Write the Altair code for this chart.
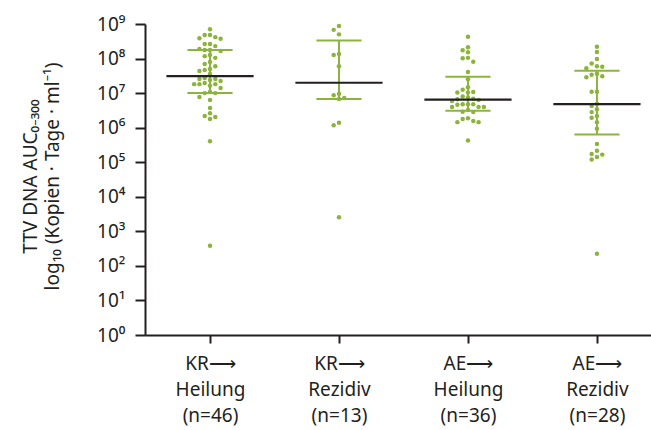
import math
import altair as alt
import pandas as pd

# Group labels (three lines each) and sample sizes
group_lines = [
    ["KR\u27f6", "Heilung", "(n=46)"],
    ["KR\u27f6", "Rezidiv", "(n=13)"],
    ["AE\u27f6", "Heilung", "(n=36)"],
    ["AE\u27f6", "Rezidiv", "(n=28)"],
]

# log10 of TTV DNA AUC(0-300) per patient
kr_heilung = [
    8.85, 8.68, 8.62, 8.57, 8.59, 8.68, 8.36, 8.42, 8.42, 8.25, 8.22, 8.25,
    8.28, 8.10, 8.07, 8.02, 7.90, 7.84, 7.78, 7.70, 7.67, 7.64, 7.55, 7.41,
    7.35, 7.38, 7.41, 7.44, 7.26, 7.26, 7.26, 7.29, 7.21, 7.15, 7.00, 7.00,
    7.03, 6.89, 6.80, 6.57, 6.34, 6.42, 6.31, 6.25, 5.61, 2.58,
]
kr_rezidiv = [
    8.94, 8.83, 8.70, 8.10, 8.13, 7.78, 6.94, 6.98, 6.83, 6.86, 6.14, 6.07, 3.41,
]
ae_heilung = [
    8.63, 8.33, 8.18, 8.24, 8.01, 8.02, 7.91, 7.61, 7.40, 7.17, 7.10, 7.02,
    7.02, 7.03, 6.90, 6.82, 6.84, 6.80, 6.87, 6.77, 6.68, 6.60, 6.60, 6.68,
    6.68, 6.60, 6.66, 6.51, 6.46, 6.45, 6.25, 6.16, 6.16, 6.19, 6.27, 5.63,
]
ae_rezidiv = [
    8.34, 8.19, 7.99, 7.86, 7.76, 7.72, 7.78, 7.53, 7.46, 7.49, 7.56, 7.04,
    7.04, 6.69, 6.63, 6.53, 6.45, 6.29, 6.34, 6.16, 5.97, 5.53, 5.33, 5.22,
    5.24, 5.15, 5.08, 2.35,
]
groups_log = [kr_heilung, kr_rezidiv, ae_heilung, ae_rezidiv]

# Median and interquartile range (log10)
median_log = [7.49, 7.30, 6.81, 6.68]
q1_log = [7.00, 6.83, 6.49, 5.80]
q3_log = [8.25, 8.52, 7.47, 7.65]

GREEN = "#8cb43c"
INK = "#231f20"
FONT = "Noto Sans"
W, H = 506, 311
X_MIN, X_MAX = -0.504, 3.419
PX_PER_X = W / (X_MAX - X_MIN)
PX_PER_DECADE = H / 9.0


def swarm_offsets(logs, slot_px=5.3, min_dist=5.0):
    """Simple beeswarm: put each dot in the nearest free horizontal slot."""
    order = sorted(range(len(logs)), key=lambda i: -logs[i])
    placed = []
    offsets = [0.0] * len(logs)
    for i in order:
        y = logs[i] * PX_PER_DECADE
        k = 0
        while True:
            slot = (k + 1) // 2 * (-1 if k % 2 else 1)
            x = slot * slot_px
            if all(math.hypot(x - px, y - py) >= min_dist for px, py in placed):
                break
            k += 1
        placed.append((x, y))
        offsets[i] = x / PX_PER_X
    return offsets


rows = []
for g, logs in enumerate(groups_log):
    for v, off in zip(logs, swarm_offsets(logs)):
        rows.append({"x": g + off, "value": 10 ** v})
points = pd.DataFrame(rows)

summary = pd.DataFrame({
    "g": list(range(4)),
    "median": [10 ** v for v in median_log],
    "q1": [10 ** v for v in q1_log],
    "q3": [10 ** v for v in q3_log],
})
summary["cap_l"] = summary["g"] - 0.175
summary["cap_r"] = summary["g"] + 0.175
summary["med_l"] = summary["g"] - 0.338
summary["med_r"] = summary["g"] + 0.338

label_expr = "[" + ",".join(
    "[" + ",".join("'" + s + "'" for s in lines) + "]" for lines in group_lines
) + "][round(datum.value)]"

x_scale = alt.Scale(domain=[X_MIN, X_MAX], nice=False, zero=False)
y_scale = alt.Scale(type="log", domain=[1, 1e9], nice=False)

x_axis = alt.Axis(
    values=[0, 1, 2, 3], labelExpr=label_expr, title=None, grid=False,
    domainColor=INK, domainWidth=2, tickColor=INK, tickWidth=2,
    tickSize=8, labelFont=FONT, labelFontSize=19, labelColor=INK,
    labelLineHeight=26, labelPadding=11, labelBaseline="top",
)
sup = "['\u2070','\u00b9','\u00b2','\u00b3','\u2074','\u2075','\u2076','\u2077','\u2078','\u2079']"
y_axis = alt.Axis(
    values=[10 ** k for k in range(10)],
    labelExpr="'10' + " + sup + "[round(log(datum.value) / LN10)]",
    title=["TTV DNA AUC\u2080\u208b\u2083\u2080\u2080",
           "log\u2081\u2080 (Kopien \u00b7 Tage \u00b7 ml\u207b\u00b9)"],
    grid=False, domainColor=INK, domainWidth=2, tickColor=INK,
    tickWidth=2, tickSize=10, labelFont=FONT, labelFontSize=19,
    labelColor=INK, labelPadding=10, labelFlush=False,
    titleFont=FONT, titleFontSize=19, titleFontWeight="normal",
    titleColor=INK, titleLineHeight=22, titleX=-105, titleY=152,
)

base_pts = alt.Chart(points)
dots = base_pts.mark_circle(size=20, color=GREEN, opacity=1).encode(
    x=alt.X("x:Q", scale=x_scale, axis=x_axis),
    y=alt.Y("value:Q", scale=y_scale, axis=y_axis),
)

base_sum = alt.Chart(summary)
whisker = base_sum.mark_rule(color=GREEN, strokeWidth=2).encode(
    x=alt.X("g:Q", scale=x_scale), y=alt.Y("q1:Q", scale=y_scale), y2="q3:Q"
)
cap_lo = base_sum.mark_rule(color=GREEN, strokeWidth=2).encode(
    x=alt.X("cap_l:Q", scale=x_scale), x2="cap_r:Q", y=alt.Y("q1:Q", scale=y_scale)
)
cap_hi = base_sum.mark_rule(color=GREEN, strokeWidth=2).encode(
    x=alt.X("cap_l:Q", scale=x_scale), x2="cap_r:Q", y=alt.Y("q3:Q", scale=y_scale)
)
median = base_sum.mark_rule(color=INK, strokeWidth=2.2).encode(
    x=alt.X("med_l:Q", scale=x_scale), x2="med_r:Q", y=alt.Y("median:Q", scale=y_scale)
)

chart = (
    alt.layer(dots, whisker, cap_lo, cap_hi, median)
    .properties(
        width=W, height=H,
        autosize=alt.AutoSizeParams(type="none"),
        padding={"left": 145, "top": 24, "right": 0, "bottom": 95},
        background="white",
    )
    .configure_view(stroke=None)
)

chart.save("out.html", embed_options={"renderer": "svg", "actions": False})
